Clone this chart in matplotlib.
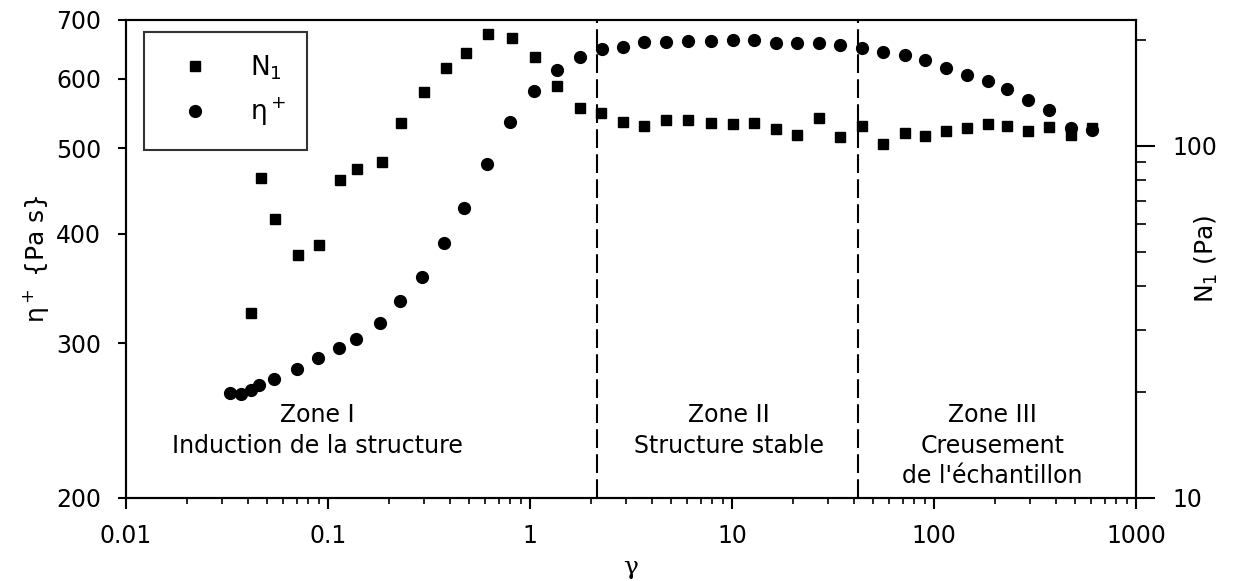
import numpy as np
import matplotlib
matplotlib.use("Agg")
import matplotlib.pyplot as plt
from matplotlib.ticker import FixedLocator, NullLocator, NullFormatter, FuncFormatter

plt.rcParams['font.family'] = ['DejaVu Sans']
plt.rcParams['mathtext.fontset'] = 'dejavusans'

# eta+ (left axis, Pa s) versus gamma
gam_eta = [0.0327, 0.0371, 0.0416, 0.0456, 0.0540, 0.0702, 0.0892, 0.1134, 0.1376,
           0.1809, 0.2272, 0.2920, 0.3753, 0.4714, 0.6124, 0.7962, 1.047, 1.361,
           1.768, 2.272, 2.887, 3.647, 4.714, 6.022, 7.827, 10.06, 12.85, 16.51,
           20.98, 26.96, 34.44, 44.01, 55.90, 71.45, 90.25, 114.7, 145.7, 185.1,
           229.8, 292.0, 370.9, 476.7, 605.6]
eta = [263.5, 262.8, 265.6, 269.1, 273.4, 280.6, 288.9, 296.6, 303.7,
       316.7, 335.5, 356.5, 390.7, 427.2, 479.8, 535.5, 580.9, 613.9,
       635.2, 648.7, 652.1, 660.7, 660.7, 662.5, 662.5, 664.3, 664.3, 659.0,
       659.0, 659.0, 655.6, 650.4, 643.6, 638.6, 630.3, 617.1, 606.0, 596.5,
       584.1, 567.5, 552.8, 527.0, 525.0]

# N1 (right axis, Pa) versus gamma
gam_n1 = [0.0416, 0.0466, 0.0547, 0.0710, 0.0902, 0.1147, 0.1392, 0.1850, 0.2298,
          0.2987, 0.3839, 0.4823, 0.6195, 0.8146, 1.059, 1.361, 1.768, 2.246,
          2.887, 3.647, 4.714, 6.022, 7.827, 10.06, 12.85, 16.51, 20.98, 26.96,
          34.44, 44.01, 55.90, 71.45, 90.25, 114.7, 145.7, 185.1, 229.8, 292.0,
          370.9, 476.7, 605.6]
n1 = [33.6, 81.2, 62.1, 49.1, 52.4, 80.1, 86.1, 90.1, 116.2,
      142.2, 166.3, 183.4, 207.7, 202.3, 178.7, 147.9, 128.1, 124.0,
      117.0, 113.9, 118.5, 118.5, 116.2, 115.4, 116.2, 111.7, 107.4, 120.1,
      106.0, 113.9, 101.3, 108.9, 106.7, 110.3, 112.5, 115.4, 113.9, 110.3,
      113.2, 107.4, 112.5]

zone_limits = [2.15, 42.0]
zone_x = [0.089, 9.7, 195.0]
zone_text = ["Zone I\nInduction de la structure",
             "Zone II\nStructure stable",
             "Zone III\nCreusement\nde l'échantillon"]

fig = plt.figure(figsize=(12.42, 5.81), dpi=100)
ax = fig.add_axes([126/1242, 1-498/581, 1010/1242, 478/581])
ax2 = ax.twinx()

# data
c_line, = ax.plot(gam_eta, eta, 'o', color='black', ms=8.5, label='η$^+$')
s_line, = ax2.plot(gam_n1, n1, 's', color='black', ms=7.5, label='N$_1$')

ax.set_xscale('log')
ax.set_yscale('log')
ax2.set_yscale('log')
ax.set_xlim(0.01, 1000)
ax.set_ylim(200, 700)
ax2.set_ylim(10, 228)

# zone separators
for xl in zone_limits:
    ax.axvline(xl, color='black', lw=1.5, linestyle=(0, (9, 3)))

for xz, txt in zip(zone_x, zone_text):
    ax.text(xz, 0.198, txt, transform=ax.get_xaxis_transform(), ha='center', va='top',
            fontsize=17, linespacing=1.33)

# axes styling
ax.yaxis.set_major_locator(FixedLocator([200, 300, 400, 500, 600, 700]))
ax.yaxis.set_major_formatter(FuncFormatter(lambda v, p: '%d' % v))
ax.yaxis.set_minor_locator(NullLocator())
ax.xaxis.set_major_formatter(FuncFormatter(lambda v, p: '%g' % v))
ax.xaxis.set_minor_formatter(NullFormatter())
ax2.yaxis.set_major_formatter(FuncFormatter(lambda v, p: '%g' % v))
ax2.yaxis.set_minor_formatter(NullFormatter())

for a in (ax, ax2):
    for sp in a.spines.values():
        sp.set_linewidth(1.5)
ax.tick_params(axis='x', which='major', direction='out', length=8, width=1.5, pad=11, labelsize=17)
ax.tick_params(axis='x', which='minor', direction='out', length=4, width=1.2)
ax.tick_params(axis='y', which='major', direction='out', length=6, width=1.5, pad=12, labelsize=17)
ax2.tick_params(axis='y', which='major', direction='out', length=14, width=1.5, pad=12, labelsize=17)
ax2.tick_params(axis='y', which='minor', direction='out', length=7, width=1.2)

ax.set_xlabel('γ', fontsize=18, family='DejaVu Serif')
ax.set_ylabel('η$^+$ {Pa s}', fontsize=18)
ax2.set_ylabel('N$_1$ (Pa)', fontsize=18)
ax.xaxis.set_label_coords(0.5, -0.122)
ax.yaxis.set_label_coords(-0.074, 0.5)
ax2.yaxis.set_label_coords(1.056, 0.5)

leg = ax2.legend(handles=[s_line, c_line], loc='upper left', bbox_to_anchor=(0.0178, 0.975),
                 borderaxespad=0, fontsize=19, frameon=True, fancybox=False, numpoints=1,
                 borderpad=0.8, handlelength=2.3, handletextpad=0.9, labelspacing=0.55)
leg.get_frame().set_edgecolor('black')
leg.get_frame().set_linewidth(1.5)

plt.savefig('out.png', dpi=100)
